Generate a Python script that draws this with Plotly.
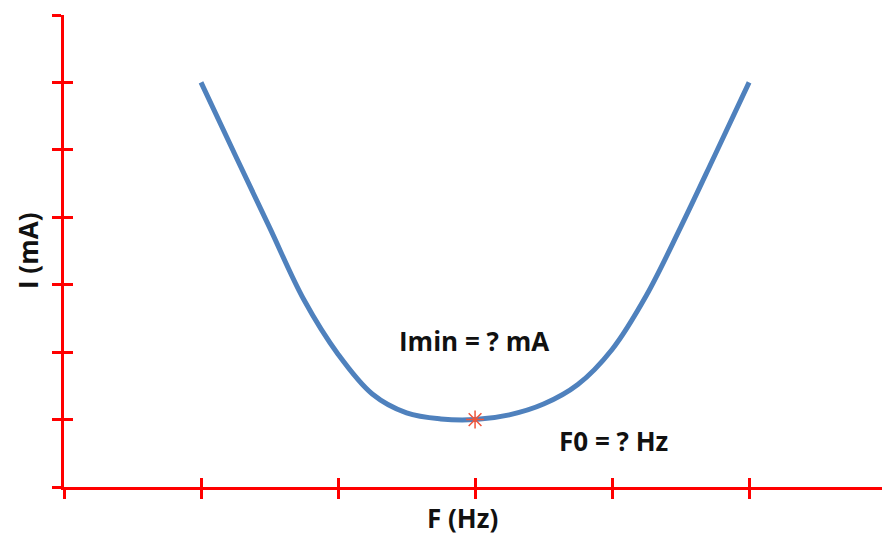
import plotly.graph_objects as go

# Resonance curve: current I (mA) versus frequency F (Hz), arbitrary units
freq = [1.0, 1.25, 1.5, 1.75, 2.0, 2.25, 2.5, 2.75, 3.0,
        3.25, 3.5, 3.75, 4.0, 4.25, 4.5, 4.75, 5.0]
current = [6.0, 4.92, 3.85, 2.78, 1.97, 1.38, 1.10, 1.01, 1.0,
           1.07, 1.23, 1.52, 2.04, 2.84, 3.85, 4.92, 6.0]

# Minimum of the curve (resonance point)
f0 = [3.0]
i_min = [1.0]

x_ticks = [0, 1, 2, 3, 4, 5]
y_ticks = [0, 1, 2, 3, 4, 5, 6, 7]
x_range = [0, 5.97]
y_range = [0, 7]

label_imin = "Imin = ? mA"
label_f0 = "F0 = ? Hz"
x_title = "F (Hz)"
y_title = "I (mA)"

RED = "#ff0000"
BLUE = "#4F81BD"
FONT = dict(family="Open Sans, Lato, sans-serif", size=26, color="#111111")

fig = go.Figure()
fig.add_trace(go.Scatter(
    x=freq, y=current, mode="lines",
    line=dict(color=BLUE, width=5, shape="spline", smoothing=1.0),
    hoverinfo="skip", showlegend=False,
))
fig.add_trace(go.Scatter(
    x=f0, y=i_min, mode="markers",
    marker=dict(symbol="asterisk-open", size=15, line=dict(color=RED, width=1.5)),
    xaxis="x2", yaxis="y2", hoverinfo="skip", showlegend=False,
))

axis_common = dict(showgrid=False, zeroline=False, showticklabels=False,
                   ticklen=9, tickwidth=3, tickcolor=RED, tickmode="array")

fig.update_layout(
    width=882, height=537,
    margin=dict(l=64, r=0, t=15, b=50),
    paper_bgcolor="white", plot_bgcolor="white",
    xaxis=dict(range=x_range, tickvals=x_ticks, ticks="outside",
               showline=True, linecolor=RED, linewidth=3, **axis_common),
    yaxis=dict(range=y_range, tickvals=y_ticks, ticks="outside",
               showline=True, linecolor=RED, linewidth=3, **axis_common),
    # inside ticks on overlaying axes so each tick crosses the axis line
    xaxis2=dict(range=x_range, tickvals=x_ticks, ticks="inside", overlaying="x",
                anchor="y2", side="bottom", showline=False, **axis_common),
    yaxis2=dict(range=y_range, tickvals=y_ticks, ticks="inside", overlaying="y",
                anchor="x2", side="left", showline=False, **axis_common),
    annotations=[
        dict(x=2.99, y=2.165, xref="x", yref="y", text=f"<b>{label_imin}</b>",
             showarrow=False, font=FONT),
        dict(x=4.007, y=0.68, xref="x", yref="y", text=f"<b>{label_f0}</b>",
             showarrow=False, font=FONT),
        dict(x=0.487, y=0, xref="paper", yref="paper", xanchor="center",
             yanchor="middle", yshift=-31,
             text=f"<b>{x_title}</b>", showarrow=False, font=FONT),
        dict(x=-0.044, y=0.5, xref="paper", yref="paper", textangle=-90,
             xanchor="center", yanchor="middle",
             text=f"<b>{y_title}</b>", showarrow=False, font=FONT),
    ],
)

fig.write_html("out.html")
